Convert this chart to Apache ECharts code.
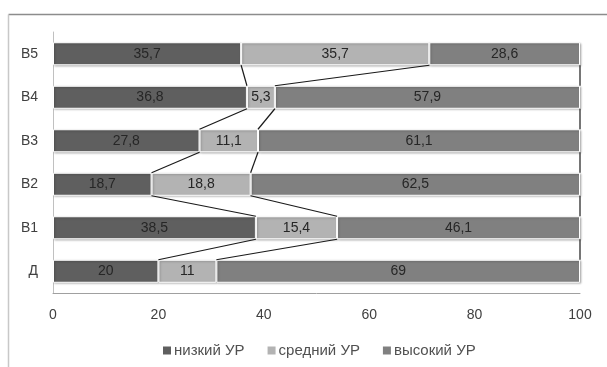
<!DOCTYPE html>
<html>
<head>
<meta charset="utf-8">
<script src="https://cdn.jsdelivr.net/npm/echarts@6/dist/echarts.min.js"></script>
<style>
html,body{margin:0;padding:0;background:#fff;}
#chart{width:607px;height:367px;}
</style>
</head>
<body>
<div id="chart"></div>
<script>
// Categories, bottom to top
var categories = ['Д', 'В1', 'В2', 'В3', 'В4', 'В5'];
var seriesNames = ['низкий УР', 'средний УР', 'высокий УР'];
var lowLevel = [20, 38.5, 18.7, 27.8, 36.8, 35.7];
var midLevel = [11, 15.4, 18.8, 11.1, 5.3, 35.7];
var highLevel = [69, 46.1, 62.5, 61.1, 57.9, 28.6];
var xTicks = [0, 20, 40, 60, 80, 100];

var colors = ['#5f5f5f', '#b3b3b3', '#808080'];
var BAR_W = 23;
var FONT = 'Liberation Sans, Arial, sans-serif';

function fmt(v) { return String(v).replace('.', ','); }

// cumulative boundaries per category: [low, low+mid, total]
var bounds = categories.map(function (c, i) {
  return [lowLevel[i], lowLevel[i] + midLevel[i], lowLevel[i] + midLevel[i] + highLevel[i]];
});
var pairIdx = [];
for (var i = 0; i < categories.length - 1; i++) pairIdx.push([i]);

function barSeries(name, data, color) {
  return {
    name: name,
    type: 'bar',
    stack: 'all',
    barWidth: BAR_W,
    data: data,
    itemStyle: {
      color: color,
      borderColor: '#ffffff',
      borderWidth: 1,
      shadowColor: 'rgba(0,0,0,0.25)',
      shadowBlur: 2,
      shadowOffsetX: 1,
      shadowOffsetY: 1
    },
    label: {
      show: true,
      position: 'inside',
      color: '#262626',
      fontFamily: FONT,
      fontSize: 14,
      formatter: function (p) { return fmt(p.value); }
    },
    emphasis: { disabled: true }
  };
}

var chart = echarts.init(document.getElementById('chart'), null, { renderer: 'canvas' });
chart.setOption({
  animation: false,
  backgroundColor: '#ffffff',
  graphic: [
    { type: 'line', shape: { x1: 8.5, y1: 14.5, x2: 607, y2: 14.5 }, style: { stroke: '#8c8c8c', lineWidth: 1.5 } },
    { type: 'line', shape: { x1: 8.5, y1: 14.5, x2: 8.5, y2: 367 }, style: { stroke: '#c8c8c8', lineWidth: 1.5 } }
  ],
  grid: { left: 53, right: 27, top: 32, bottom: 74 },
  legend: {
    bottom: 4,
    left: 156,
    itemWidth: 10,
    itemHeight: 10,
    itemGap: 21,
    icon: 'rect',
    textStyle: { fontFamily: FONT, fontSize: 15, color: '#505050', padding: [0, 0, 0, -3] },
    data: seriesNames
  },
  xAxis: {
    type: 'value',
    min: 0,
    max: 100,
    interval: 20,
    axisLine: { show: true, lineStyle: { color: '#a0a0a0' } },
    axisTick: { show: false },
    splitLine: { show: false },
    axisLabel: {
      margin: 15,
      fontFamily: FONT,
      fontSize: 14,
      color: '#404040',
      formatter: function (v) { return xTicks.indexOf(v) >= 0 ? String(v) : ''; }
    }
  },
  yAxis: {
    type: 'category',
    data: categories,
    axisLine: { show: true, lineStyle: { color: '#c0c0c0' } },
    axisTick: { show: false },
    axisLabel: { margin: 15, fontFamily: FONT, fontSize: 14, color: '#404040' }
  },
  series: [
    barSeries(seriesNames[0], lowLevel, colors[0]),
    barSeries(seriesNames[1], midLevel, colors[1]),
    barSeries(seriesNames[2], highLevel, colors[2]),
    {
      // series lines joining segment boundaries of neighbouring bars
      type: 'custom',
      data: pairIdx,
      z: 5,
      silent: true,
      renderItem: function (params, api) {
        var i = api.value(0);
        var children = [];
        for (var k = 0; k < 3; k++) {
          var lower = api.coord([bounds[i][k], i]);
          var upper = api.coord([bounds[i + 1][k], i + 1]);
          children.push({
            type: 'line',
            shape: {
              x1: lower[0], y1: lower[1] - BAR_W / 2,
              x2: upper[0], y2: upper[1] + BAR_W / 2
            },
            style: { stroke: '#1a1a1a', lineWidth: 1.2 }
          });
        }
        return { type: 'group', children: children };
      }
    }
  ]
});
</script>
</body>
</html>
